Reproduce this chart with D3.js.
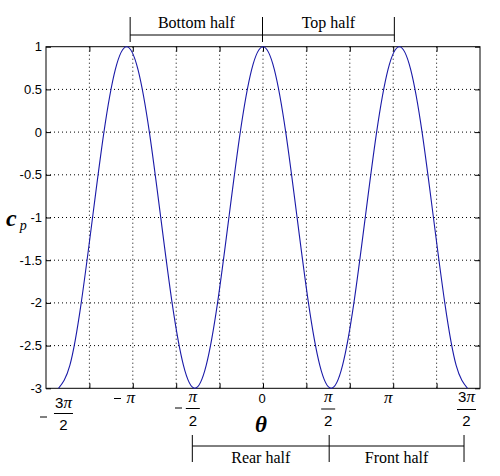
<!DOCTYPE html>
<html><head><meta charset="utf-8">
<script src="https://cdn.jsdelivr.net/npm/d3@7"></script>
<style>body{margin:0;background:#fff}svg{display:block}</style>
</head><body>
<svg id="c" width="500" height="476"></svg>
<script>
// theta sample points in units of pi/12
const thetaTwelfths = [-18,-17,-16,-15,-14,-13,-12,-11,-10,-9,-8,-7,-6,-5,-4,-3,-2,-1,0,1,2,3,4,5,6,7,8,9,10,11,12,13,14,15,16,17,18];
const cpValues = [-3,-2.732,-2,-1,0,0.732,1,0.732,0,-1,-2,-2.732,-3,-2.732,-2,-1,0,0.732,1,0.732,0,-1,-2,-2.732,-3,-2.732,-2,-1,0,0.732,1,0.732,0,-1,-2,-2.732,-3];
const xGridTicks = [-4,-3,-2,-1,0,1,2,3,4];
const yTicks = [1,0.5,0,-0.5,-1,-1.5,-2,-2.5,-3];
const yTickLabels = ["1","0.5","0","-0.5","-1","-1.5","-2","-2.5","-3"];
const topBracket = [-Math.PI, 0, Math.PI];
const topBracketLabels = ["Bottom half","Top half"];
const bottomBracket = [-Math.PI/2, Math.PI/2, 3*Math.PI/2];
const bottomBracketLabels = ["Rear half","Front half"];

const svg = d3.select("#c");
const L=46, R=480, T=46.7, B=388.3;
const x = d3.scaleLinear().domain([-5,5]).range([L,R]);
const y = d3.scaleLinear().domain([-3,1]).range([B,T]);
const PI = Math.PI;

// grid
const g = svg.append("g");
g.selectAll(".gx").data(xGridTicks).enter().append("line")
  .attr("x1",d=>x(d)).attr("x2",d=>x(d)).attr("y1",T).attr("y2",B)
  .attr("stroke","#000").attr("stroke-width",1).attr("stroke-dasharray","1,3");
g.selectAll(".gy").data(yTicks.filter(d=>d<1&&d>-3)).enter().append("line")
  .attr("x1",L).attr("x2",R).attr("y1",d=>y(d)).attr("y2",d=>y(d))
  .attr("stroke","#000").attr("stroke-width",1).attr("stroke-dasharray","1,3");

// axes with inner ticks
const tl = 5;
svg.append("g").attr("transform",`translate(0,${B})`)
  .call(d3.axisTop(x).tickValues(xGridTicks).tickSize(tl).tickFormat(""))
  .call(a=>a.select(".domain").remove());
svg.append("g").attr("transform",`translate(0,${T})`)
  .call(d3.axisBottom(x).tickValues(xGridTicks).tickSize(tl).tickFormat(""))
  .call(a=>a.select(".domain").remove());
svg.append("g").attr("transform",`translate(${L},0)`)
  .call(d3.axisRight(y).tickValues(yTicks).tickSize(tl).tickFormat(""))
  .call(a=>a.select(".domain").remove());
svg.append("g").attr("transform",`translate(${R},0)`)
  .call(d3.axisLeft(y).tickValues(yTicks).tickSize(tl).tickFormat(""))
  .call(a=>a.select(".domain").remove());
svg.append("rect").attr("x",L).attr("y",T).attr("width",R-L).attr("height",B-T)
  .attr("fill","none").attr("stroke","#000").attr("stroke-width",1);

// y tick labels
svg.selectAll(".yl").data(yTicks).enter().append("text")
  .attr("x",L-4).attr("y",d=>y(d)).attr("dy","0.35em")
  .attr("text-anchor","end").attr("font-family","Liberation Sans, Arial, sans-serif")
  .attr("font-size",13).text((d,i)=>yTickLabels[i]);

// curve
const line = d3.line().x((d,i)=>x(thetaTwelfths[i]*PI/12)).y(d=>y(d)).curve(d3.curveNatural);
svg.append("path").datum(cpValues).attr("d",line)
  .attr("fill","none").attr("stroke","#1a1aa8").attr("stroke-width",1.1);

// x tick labels (pi multiples)
const sans="Liberation Sans, Arial, sans-serif", serif="Liberation Serif, Times New Roman, serif";
function piText(sel, s){ // render text with italic serif pi
  const parts = s.split("π");
  parts.forEach((p,i)=>{
    if(p) sel.append("tspan").attr("font-family",sans).attr("font-style","normal").text(p);
    if(i<parts.length-1) sel.append("tspan").attr("font-family",serif).attr("font-style","italic").attr("font-size",17).text("π");
  });
}
function frac(cx, numBase, barY, denBase, num, neg, minusX, minusY, barW){
  const t = svg.append("text").attr("x",cx).attr("y",numBase).attr("text-anchor","middle").attr("font-size",15);
  piText(t,num);
  svg.append("line").attr("x1",cx-barW/2).attr("x2",cx+barW/2).attr("y1",barY).attr("y2",barY).attr("stroke","#000").attr("stroke-width",1);
  svg.append("text").attr("x",cx).attr("y",denBase).attr("text-anchor","middle").attr("font-family",sans).attr("font-size",15).text("2");
  if(neg) svg.append("line").attr("x1",minusX).attr("x2",minusX+7).attr("y1",minusY).attr("y2",minusY).attr("stroke","#000").attr("stroke-width",1);
}
frac(x(-3*PI/2)+5, 408, 413.5, 430, "3π", true, 40, 417, 19);
frac(x(-PI/2)-2, 402, 408.5, 426, "π", true, 175, 408, 14);
frac(x(PI/2)-3, 402, 409, 426, "π", false, 0,0, 14);
frac(x(3*PI/2)-1, 402, 409.5, 426, "3π", false, 0,0, 19);
// -pi
svg.append("line").attr("x1",114).attr("x2",121).attr("y1",398.5).attr("y2",398.5).attr("stroke","#000");
const tpi = svg.append("text").attr("x",x(-PI)+4).attr("y",403).attr("text-anchor","middle");
piText(tpi,"π");
const tpi2 = svg.append("text").attr("x",x(PI)-11).attr("y",403).attr("text-anchor","middle");
piText(tpi2,"π");
svg.append("text").attr("x",x(0)-1).attr("y",403).attr("text-anchor","middle").attr("font-family",sans).attr("font-size",13).text("0");

// axis labels
svg.append("text").attr("x",261).attr("y",432).attr("text-anchor","middle")
  .attr("font-family",serif).attr("font-style","italic").attr("font-weight","bold").attr("font-size",23).text("θ");
const cp = svg.append("text").attr("x",6).attr("y",226).attr("font-family",serif).attr("font-style","italic").attr("font-weight","bold").attr("font-size",24);
cp.append("tspan").text("c");
cp.append("tspan").attr("font-weight","normal").attr("font-size",14).attr("dx",3).attr("dy",4).text("p");

// brackets
function bracket(pos, labels, hy, y1, y2, ty, dxs){
  const bx = pos.map(d=>x(d)+ (dxs? 0:0));
  svg.append("line").attr("x1",x(pos[0])+dxs[0]).attr("x2",x(pos[2])+dxs[2]).attr("y1",hy).attr("y2",hy).attr("stroke","#000");
  pos.forEach((p,i)=>svg.append("line").attr("x1",x(p)+dxs[i]).attr("x2",x(p)+dxs[i]).attr("y1",y1).attr("y2",y2).attr("stroke","#000"));
  labels.forEach((l,i)=>svg.append("text").attr("x",(x(pos[i])+dxs[i]+x(pos[i+1])+dxs[i+1])/2).attr("y",ty)
    .attr("text-anchor","middle").attr("font-family",serif).attr("font-size",16).text(l));
}
bracket(topBracket, topBracketLabels, 35, 17, 42, 28, [3.5,-0.5,-5]);
bracket(bottomBracket, bottomBracketLabels, 446, 435, 462, 463, [-2.5,-2,-3.5]);
</script>
</body></html>
